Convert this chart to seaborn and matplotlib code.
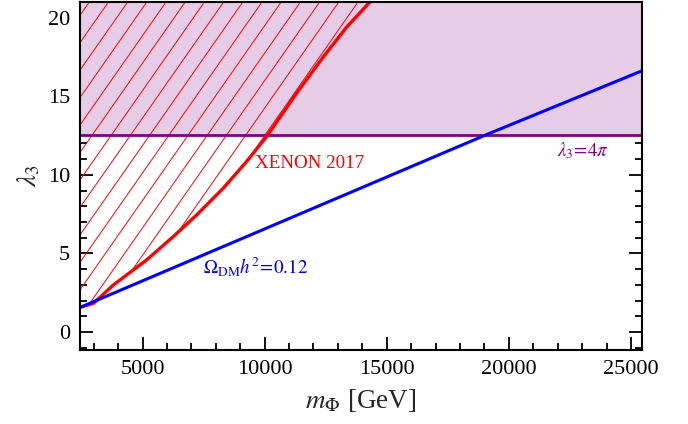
import numpy as np
import matplotlib.pyplot as plt
import seaborn as sns
from matplotlib.ticker import MultipleLocator

# XENON 2017 exclusion boundary (left of it is excluded)
xenon_m = [2440, 3000, 3805, 5172, 6260, 7218, 8306, 9263, 10082, 11309, 12398, 13355, 14309]
xenon_lam = [1.56, 1.83, 2.99, 4.59, 6.07, 7.45, 9.15, 10.85, 12.44, 15.2, 17.5, 19.4, 21.0]

# relic abundance line Omega h^2 = 0.12
relic_m = [2440, 19100, 25450]
relic_lam = [1.56, 12.57, 16.62]

# perturbativity bound
lam_pert = 4 * np.pi

x_range = [2440, 25450]
y_range = [-1.15, 21.0]

sns.set_style("ticks")
plt.rcParams['font.family'] = ['Liberation Serif', 'DejaVu Serif']
plt.rcParams['mathtext.fontset'] = 'stix'

fig = plt.figure(figsize=(6.88, 4.24), dpi=100)
ax = fig.add_axes([0.1163, 0.1745, 0.8168, 0.8208])

# non-perturbative band
ax.fill_between(x_range, lam_pert, y_range[1], color='#e6cce6', lw=0, zorder=1)
ax.axhline(lam_pert, color='#800080', lw=2, zorder=3)

# hatched XENON region, hatch drawn as thin slanted lines clipped to the region
region = ax.fill_between(xenon_m, xenon_lam, y_range[1], facecolor='none', lw=0)
step = 0.03416
slope = 2.31
for c in np.arange(-0.2115 - step * 25, 1.0, step):
    ln, = ax.plot([c, c + 1 / slope], [0, 1], transform=ax.transAxes,
                  color='red', lw=0.7, zorder=2)
    ln.set_clip_path(region.get_paths()[0], ax.transData)

sns.lineplot(x=xenon_m, y=xenon_lam, color='red', lw=2.4, ax=ax, estimator=None, zorder=4)
sns.lineplot(x=relic_m, y=relic_lam, color='blue', lw=2.2, ax=ax, estimator=None, zorder=4)

ax.text(9603, 10.45, 'XENON 2017', color='red', fontsize=13.7, va='baseline')
ax.text(7475, 3.76, r'$\Omega_{\rm DM}h^2\!=\!0.12$', color='blue', fontsize=13.7, va='baseline')
ax.text(21957, 11.2, r'$\lambda_3\!=\!4\pi$', color='#800080', fontsize=13.7, va='baseline')

ax.set_xlim(x_range)
ax.set_ylim(y_range)
ax.xaxis.set_major_locator(MultipleLocator(5000))
ax.xaxis.set_minor_locator(MultipleLocator(1000))
ax.yaxis.set_major_locator(MultipleLocator(5))
ax.yaxis.set_minor_locator(MultipleLocator(1))
ax.tick_params(which='both', direction='in', top=True, right=True, width=1.3, colors='black')
ax.tick_params(which='major', length=9.5, labelsize=16, pad=7)
ax.tick_params(which='minor', length=5)
for sp in ax.spines.values():
    sp.set_linewidth(1.5)
    sp.set_color('black')
    sp.set_zorder(5)

ax.set_xlabel(r'$m_\Phi$ [GeV]', fontsize=19.5, labelpad=6)
ax.set_ylabel(r'$\lambda_3$', fontsize=19.5, labelpad=4)

fig.savefig('out.png', dpi=100)
